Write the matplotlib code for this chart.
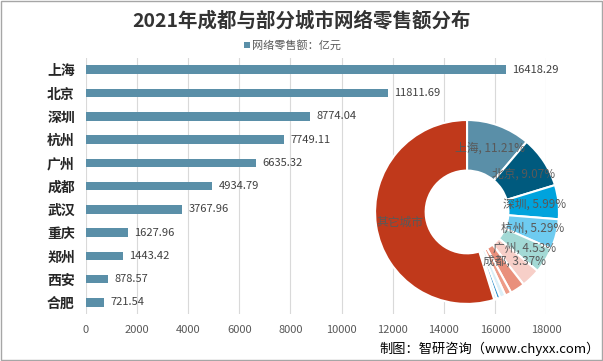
import numpy as np
import matplotlib
matplotlib.use('Agg')
import matplotlib.pyplot as plt
from matplotlib.patches import Rectangle, Circle

plt.rcParams['font.family'] = ['Noto Sans CJK SC', 'DejaVu Sans']

# Dados: vendas online por cidade (100 milhões de yuan)
cidades = ['上海', '北京', '深圳', '杭州', '广州', '成都', '武汉', '重庆', '郑州', '西安', '合肥']
valores = [16418.29, 11811.69, 8774.04, 7749.11, 6635.32, 4934.79, 3767.96, 1627.96, 1443.42, 878.57, 721.54]

# Participação (%) no gráfico de rosca
rosca_nomes = cidades + ['其它城市']
rosca_pct = [11.21, 9.07, 5.99, 5.29, 4.53, 3.37, 2.57, 1.11, 0.99, 0.60, 0.49, 54.78]
rosca_rotulos = ['上海, 11.21%', '北京, 9.07%', '深圳, 5.99%', '杭州, 5.29%', '广州, 4.53%',
                 '成都, 3.37%', '', '', '', '', '', '其它城市']
rosca_cores = ['#5A8FA8', '#005A7E', '#00A3DD', '#6ECBF0', '#A3D9D5', '#F7CFC8',
               '#E9907C', '#EE9C88', '#DCEFF7', '#2E8FCB', '#BFE6F5', '#C0391B']

titulo = '2021年成都与部分城市网络零售额分布'
legenda = '网络零售额：亿元'
fonte = '制图：智研咨询（www.chyxx.com）'

cor_barra = '#5A8FA8'

fig = plt.figure(figsize=(6.03, 3.61), dpi=100)

# Gráfico de barras horizontais
ax = fig.add_axes([0.1426, 0.130, 0.763, 0.709])
y = np.arange(len(cidades))
ax.barh(y, valores, height=0.37, color=cor_barra, zorder=2)
ax.set_ylim(len(cidades) - 0.5, -0.5)
ax.set_xlim(0, 18000)
ax.set_xticks(np.arange(0, 18001, 2000))
ax.set_yticks(y)
ax.set_yticklabels(cidades, fontsize=10, fontweight='bold', color='#262626')
ax.tick_params(axis='y', length=0, pad=8)
ax.tick_params(axis='x', length=0, labelsize=8, labelcolor='#595959', pad=8)
ax.grid(axis='x', color='#D9D9D9', linewidth=0.8, zorder=0)
for s in ax.spines.values():
    s.set_visible(False)
for yi, v in zip(y, valores):
    ax.text(v + 250, yi, f'{v:.2f}', va='center', ha='left', fontsize=8, color='#404040')

# Gráfico de rosca
ax2 = fig.add_axes([0.622, 0.158, 0.305, 0.5097])
ax2.patch.set_alpha(0)
wedges, _ = ax2.pie(rosca_pct, colors=rosca_cores, startangle=90, counterclock=False,
                    radius=1.0, wedgeprops=dict(width=0.55, edgecolor='white', linewidth=1.5))
ax2.add_patch(Circle((0, 0), 0.45, facecolor='white', edgecolor='none', zorder=0))
for w, rot in zip(wedges, rosca_rotulos):
    if not rot:
        continue
    ang = np.deg2rad((w.theta1 + w.theta2) / 2)
    ax2.text(0.74 * np.cos(ang), 0.74 * np.sin(ang), rot, ha='center', va='center',
             fontsize=8.5, color='#595959')
ax2.set_xlim(-1, 1)
ax2.set_ylim(-1, 1)
ax2.set_aspect('equal')
ax2.axis('off')

# Título, legenda e fonte
fig.text(0.5, 0.944, titulo, ha='center', va='center', fontsize=14, fontweight='bold', color='#333333')
fig.patches.append(Rectangle((0.404, 0.866), 0.011, 0.018, transform=fig.transFigure,
                             facecolor=cor_barra, edgecolor='none'))
fig.text(0.418, 0.875, legenda, ha='left', va='center', fontsize=8, color='#595959')
fig.text(0.995, 0.033, fonte, ha='right', va='center', fontsize=9.5, color='#000000')

# Moldura
fig.patches.append(Rectangle((0.001, 0.002), 0.997, 0.995, transform=fig.transFigure,
                             facecolor='none', edgecolor='#A6A6A6', linewidth=1))

fig.savefig('out.png', dpi=100)
